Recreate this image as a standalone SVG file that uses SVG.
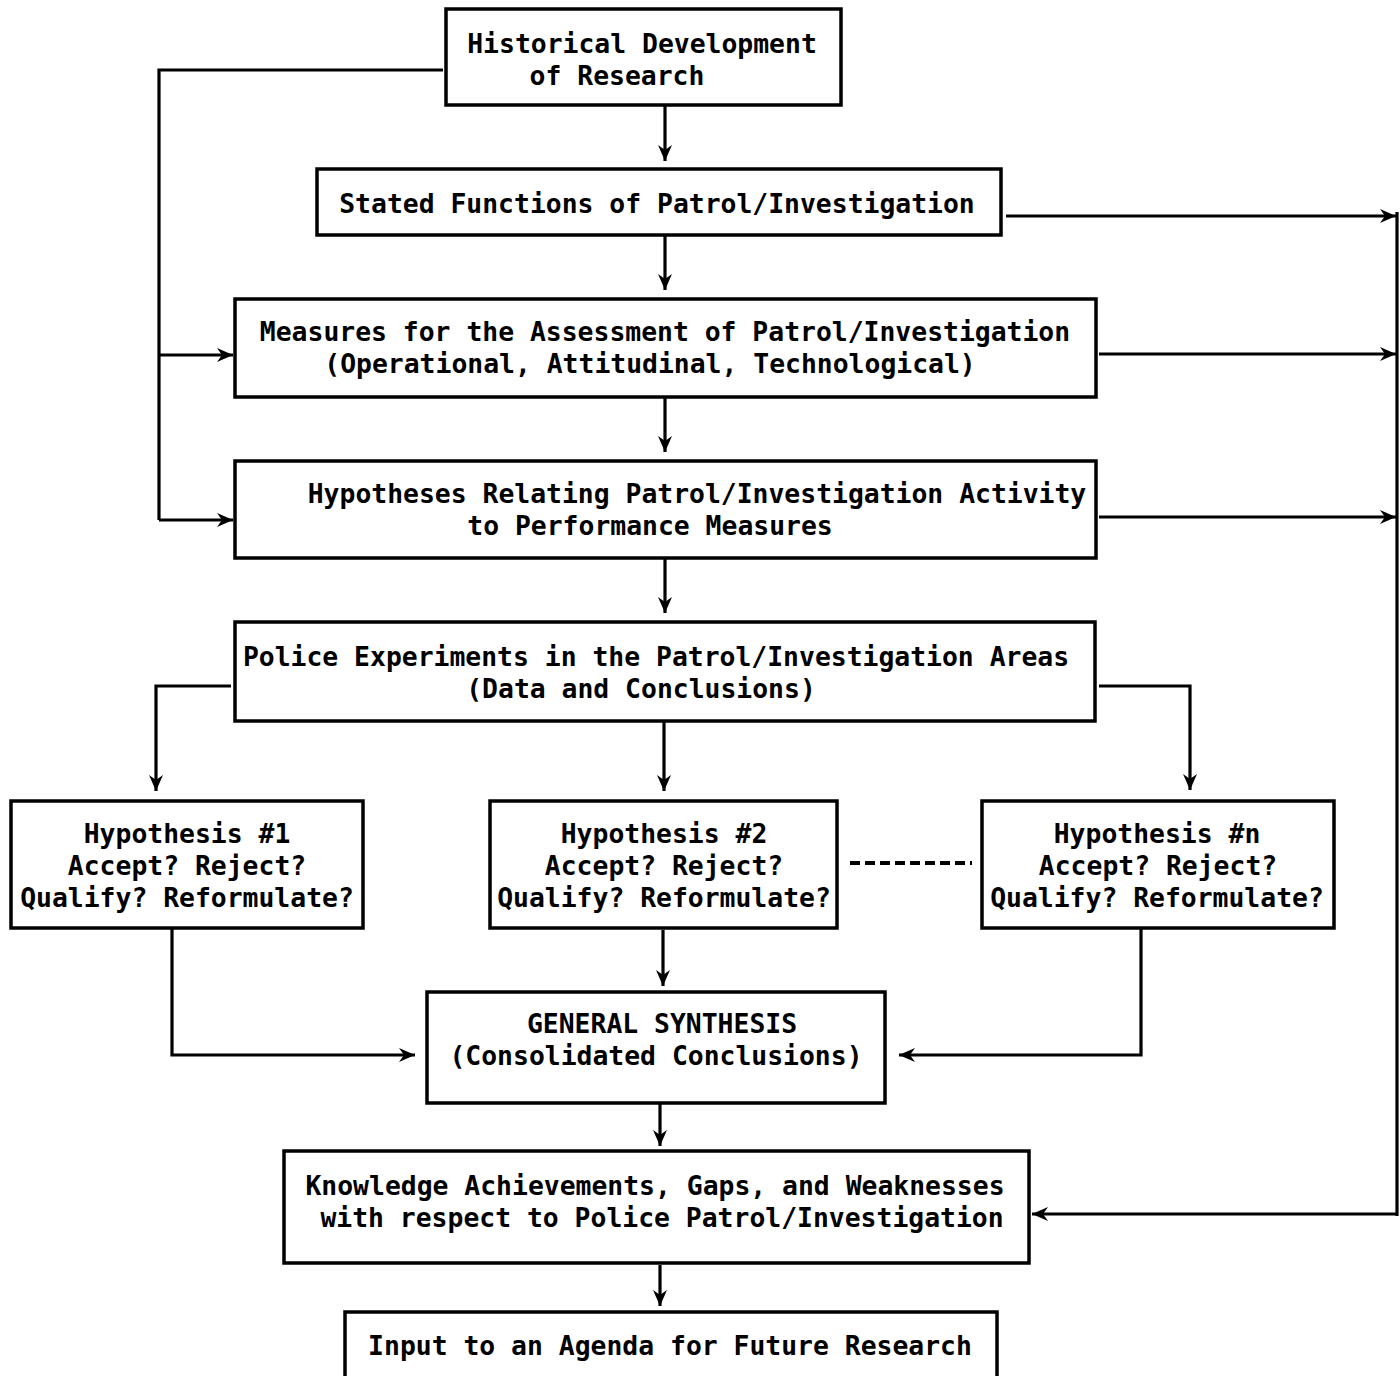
<svg xmlns="http://www.w3.org/2000/svg" width="1400" height="1376" viewBox="0 0 1400 1376">
<style>
.bg{fill:#ffffff}
.box{fill:none;stroke:#000;stroke-width:3.5}
.t{font-family:"DejaVu Sans Mono","Liberation Mono",monospace;font-weight:bold;font-size:26.4px;fill:#000;text-anchor:middle}
.c{fill:none;stroke:#000;stroke-width:3.2}
.a{marker-end:url(#ah)}
.d{stroke-dasharray:10 5;stroke-width:4}
</style>
<defs>
<marker id="ah" markerUnits="userSpaceOnUse" markerWidth="18" markerHeight="16" refX="16" refY="8" orient="auto">
<path d="M0,1 L16,8 L0,15 L5,8 Z" fill="#000"/>
</marker>
</defs>
<rect class="bg" x="0" y="0" width="1400" height="1376"/>

<g id="connectors">
<path class="c" d="M443,70 H159 V520"/>
<path class="c a" d="M159,355 H233"/>
<path class="c a" d="M159,520 H233"/>
<path class="c a" d="M665,106 V161"/>
<path class="c a" d="M665,236 V290"/>
<path class="c a" d="M665,398 V452"/>
<path class="c a" d="M665,559 V613"/>
<path class="c a" d="M1006,216 H1396"/>
<path class="c a" d="M1099,354 H1396"/>
<path class="c a" d="M1099,517 H1396"/>
<path class="c" d="M1397,212 V1216"/>
<path class="c a" d="M1397,1214 H1032"/>
<path class="c a" d="M231,686 H156 V791"/>
<path class="c a" d="M1099,686 H1190 V790"/>
<path class="c a" d="M664,722 V791"/>
<path class="c d" d="M850,863 H972"/>
<path class="c a" d="M172,929 V1055 H415"/>
<path class="c a" d="M1141,929 V1055 H899"/>
<path class="c a" d="M663,930 V986"/>
<path class="c a" d="M660,1104 V1146"/>
<path class="c a" d="M660,1265 V1306"/>
</g>

<g id="n-historical">
<rect class="box" x="446" y="9" width="395" height="96"/>
<text class="t" x="642" y="53">Historical Development</text>
<text class="t" x="617" y="85">of Research</text>
</g>

<g id="n-stated">
<rect class="box" x="317" y="169" width="684" height="66"/>
<text class="t" x="657" y="213">Stated Functions of Patrol/Investigation</text>
</g>

<g id="n-measures">
<rect class="box" x="235" y="299" width="861" height="98"/>
<text class="t" x="665" y="341">Measures for the Assessment of Patrol/Investigation</text>
<text class="t" x="650" y="373">(Operational, Attitudinal, Technological)</text>
</g>

<g id="n-hypotheses">
<rect class="box" x="235" y="461" width="861" height="97"/>
<text class="t" x="697" y="503">Hypotheses Relating Patrol/Investigation Activity</text>
<text class="t" x="650" y="535">to Performance Measures</text>
</g>

<g id="n-experiments">
<rect class="box" x="235" y="622" width="860" height="99"/>
<text class="t" x="656" y="666">Police Experiments in the Patrol/Investigation Areas</text>
<text class="t" x="641" y="698">(Data and Conclusions)</text>
</g>

<g id="n-hyp1">
<rect class="box" x="11" y="801" width="352" height="127"/>
<text class="t" x="187" y="843">Hypothesis #1</text>
<text class="t" x="187" y="875">Accept? Reject?</text>
<text class="t" x="187" y="907">Qualify? Reformulate?</text>
</g>

<g id="n-hyp2">
<rect class="box" x="490" y="801" width="347" height="127"/>
<text class="t" x="664" y="843">Hypothesis #2</text>
<text class="t" x="664" y="875">Accept? Reject?</text>
<text class="t" x="664" y="907">Qualify? Reformulate?</text>
</g>

<g id="n-hypn">
<rect class="box" x="982" y="801" width="352" height="127"/>
<text class="t" x="1157" y="843">Hypothesis #n</text>
<text class="t" x="1158" y="875">Accept? Reject?</text>
<text class="t" x="1157" y="907">Qualify? Reformulate?</text>
</g>

<g id="n-synthesis">
<rect class="box" x="427" y="992" width="458" height="111"/>
<text class="t" x="662" y="1033">GENERAL SYNTHESIS</text>
<text class="t" x="656" y="1065">(Consolidated Conclusions)</text>
</g>

<g id="n-knowledge">
<rect class="box" x="284" y="1151" width="745" height="112"/>
<text class="t" x="655" y="1195">Knowledge Achievements, Gaps, and Weaknesses</text>
<text class="t" x="662" y="1227">with respect to Police Patrol/Investigation</text>
</g>

<g id="n-input">
<rect class="box" x="345" y="1312" width="652" height="80"/>
<text class="t" x="670" y="1355">Input to an Agenda for Future Research</text>
</g>
</svg>
